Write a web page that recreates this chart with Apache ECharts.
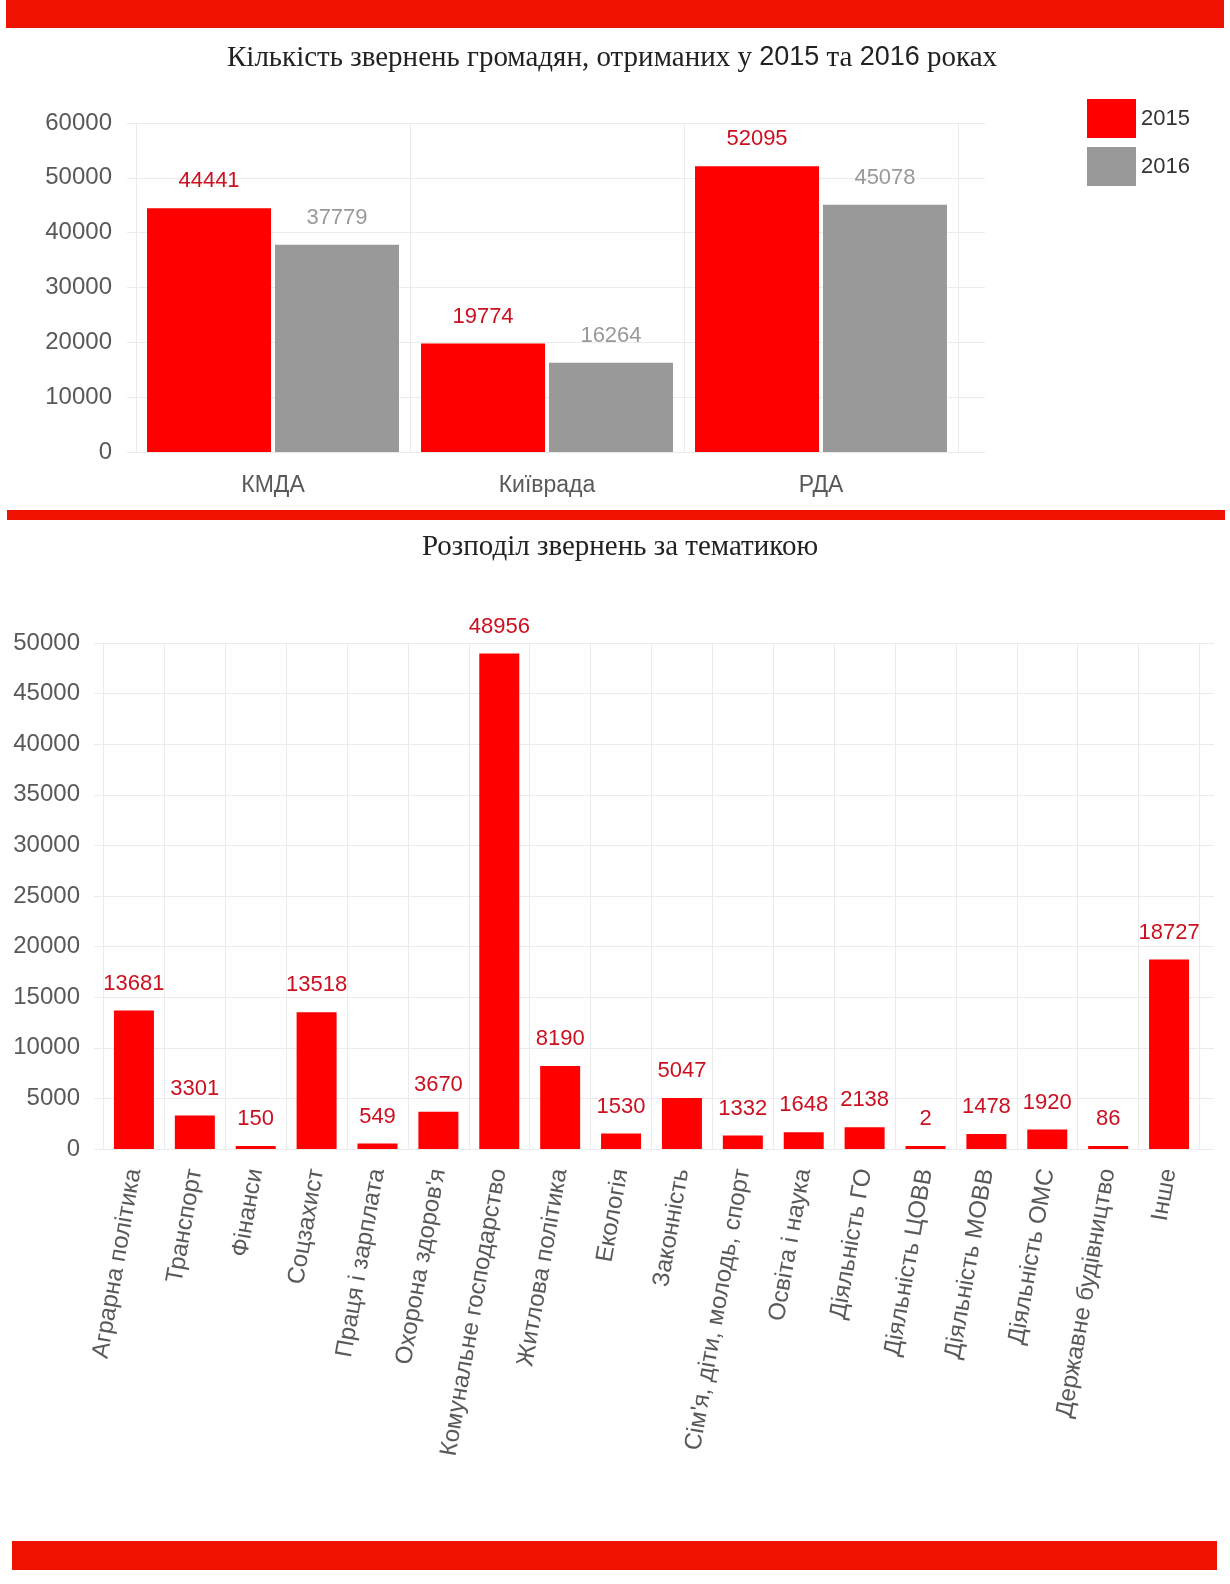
<!DOCTYPE html>
<html>
<head>
<meta charset="utf-8">
<script src="https://cdn.jsdelivr.net/npm/echarts@6/dist/echarts.min.js"></script>
<style>
html,body{margin:0;padding:0;background:#fff;}
#main{width:1230px;height:1584px;}
</style>
</head>
<body>
<div id="main"></div>
<script>
// ---- Data ----
const title1Parts = ['Кількість звернень громадян, отриманих у ', '2015', ' та ', '2016', ' роках'];
const title2 = 'Розподіл звернень за тематикою';

const bodies = ['КМДА', 'Київрада', 'РДА'];
const years = ['2015', '2016'];
const values2015 = [44441, 19774, 52095];
const values2016 = [37779, 16264, 45078];
const topTicks = { min: 0, max: 60000, interval: 10000 };

const topics = ['Аграрна політика', 'Транспорт', 'Фінанси', 'Соцзахист', 'Праця і зарплата',
  "Охорона здоров'я", 'Комунальне господарство', 'Житлова політика', 'Екологія', 'Законність',
  "Сім'я, діти, молодь, спорт", 'Освіта і наука', 'Діяльність ГО', 'Діяльність ЦОВВ',
  'Діяльність МОВВ', 'Діяльність ОМС', 'Державне будівництво', 'Інше'];
const topicValues = [13681, 3301, 150, 13518, 549, 3670, 48956, 8190, 1530, 5047, 1332, 1648, 2138, 2, 1478, 1920, 86, 18727];
const bottomTicks = { min: 0, max: 50000, interval: 5000 };

// ---- Styles ----
const SANS = '"Liberation Sans", Arial, Helvetica, sans-serif';
const SERIF = '"Liberation Serif", "Times New Roman", serif';
const RED = '#ff0000';
const GREY = '#999999';
const LABEL_RED = '#cc1020';
const AXIS_TXT = '#595959';
const GRID_LINE = '#ebebeb';
const BAND = '#f01200';
const plain = v => String(v);

const chart = echarts.init(document.getElementById('main'), null, { renderer: 'canvas' });

const option = {
  backgroundColor: '#ffffff',
  animation: false,
  graphic: [
    { type: 'rect', shape: { x: 6, y: 0, width: 1218, height: 28 }, style: { fill: BAND } },
    { type: 'rect', shape: { x: 7, y: 510, width: 1218, height: 10 }, style: { fill: BAND } },
    { type: 'rect', shape: { x: 12, y: 1541, width: 1205, height: 29 }, style: { fill: BAND } },
    {
      type: 'text', x: 612, y: 58,
      style: {
        text: '{a|' + title1Parts[0] + '}{b|' + title1Parts[1] + '}{a|' + title1Parts[2] + '}{b|' + title1Parts[3] + '}{a|' + title1Parts[4] + '}',
        textAlign: 'center', textVerticalAlign: 'middle',
        rich: {
          a: { fontFamily: SERIF, fontSize: 29, fill: '#222', color: '#222' },
          b: { fontFamily: SANS, fontSize: 27, fill: '#222', color: '#222' }
        }
      }
    },
    {
      type: 'text', x: 620, y: 547,
      style: { text: title2, fontFamily: SERIF, fontSize: 29, fill: '#222', textAlign: 'center', textVerticalAlign: 'middle' }
    }
  ],
  legend: {
    data: years,
    orient: 'vertical',
    left: 1082, top: 94,
    itemWidth: 49, itemHeight: 39, itemGap: 9,
    icon: 'rect',
    textStyle: { fontFamily: SANS, fontSize: 22, color: '#333' }
  },
  grid: [
    { left: 136, top: 123, width: 822, height: 329 },
    { left: 127, top: 123, width: 858, height: 329 },
    { left: 103.5, top: 643, width: 1096, height: 506 },
    { left: 94, top: 643, width: 1120, height: 506 }
  ],
  xAxis: [
    {
      type: 'category', gridIndex: 0, data: bodies,
      axisLine: { show: false }, axisTick: { show: false },
      splitLine: { show: true, lineStyle: { color: GRID_LINE, width: 1 } },
      axisLabel: { fontFamily: SANS, fontSize: 23, color: AXIS_TXT, margin: 22 }
    },
    { type: 'value', gridIndex: 1, show: false },
    {
      type: 'category', gridIndex: 2, data: topics,
      axisLine: { show: false }, axisTick: { show: false },
      splitLine: { show: true, lineStyle: { color: GRID_LINE, width: 1 } },
      axisLabel: { fontFamily: SANS, fontSize: 24, color: AXIS_TXT, margin: 20, rotate: 80, interval: 0, padding: [6, 0, 0, 0] }
    },
    { type: 'value', gridIndex: 3, show: false }
  ],
  yAxis: [
    { type: 'value', gridIndex: 0, min: topTicks.min, max: topTicks.max, interval: topTicks.interval, show: false },
    {
      type: 'value', gridIndex: 1, min: topTicks.min, max: topTicks.max, interval: topTicks.interval,
      axisLine: { show: false }, axisTick: { show: false },
      splitLine: { show: true, lineStyle: { color: GRID_LINE, width: 1 } },
      axisLabel: { fontFamily: SANS, fontSize: 24, color: AXIS_TXT, margin: 15, formatter: plain, padding: [14, 0, 0, 0] }
    },
    { type: 'value', gridIndex: 2, min: bottomTicks.min, max: bottomTicks.max, interval: bottomTicks.interval, show: false },
    {
      type: 'value', gridIndex: 3, min: bottomTicks.min, max: bottomTicks.max, interval: bottomTicks.interval,
      axisLine: { show: false }, axisTick: { show: false },
      splitLine: { show: true, lineStyle: { color: GRID_LINE, width: 1 } },
      axisLabel: { fontFamily: SANS, fontSize: 24, color: AXIS_TXT, margin: 14, formatter: plain }
    }
  ],
  series: [
    {
      name: years[0], type: 'bar', xAxisIndex: 0, yAxisIndex: 0, data: values2015,
      barWidth: 124, barGap: '3.2%',
      itemStyle: { color: RED },
      label: { show: true, position: 'top', distance: 16, fontFamily: SANS, fontSize: 22, color: LABEL_RED }
    },
    {
      name: years[1], type: 'bar', xAxisIndex: 0, yAxisIndex: 0, data: values2016,
      barWidth: 124, barGap: '3.2%',
      itemStyle: { color: GREY },
      label: { show: true, position: 'top', distance: 16, fontFamily: SANS, fontSize: 22, color: GREY }
    },
    {
      name: 'topics', type: 'bar', xAxisIndex: 2, yAxisIndex: 2, data: topicValues,
      barWidth: 40, barMinHeight: 3,
      itemStyle: { color: RED },
      label: { show: true, position: 'top', distance: 16, fontFamily: SANS, fontSize: 22, color: LABEL_RED }
    }
  ]
};

chart.setOption(option);
</script>
</body>
</html>
